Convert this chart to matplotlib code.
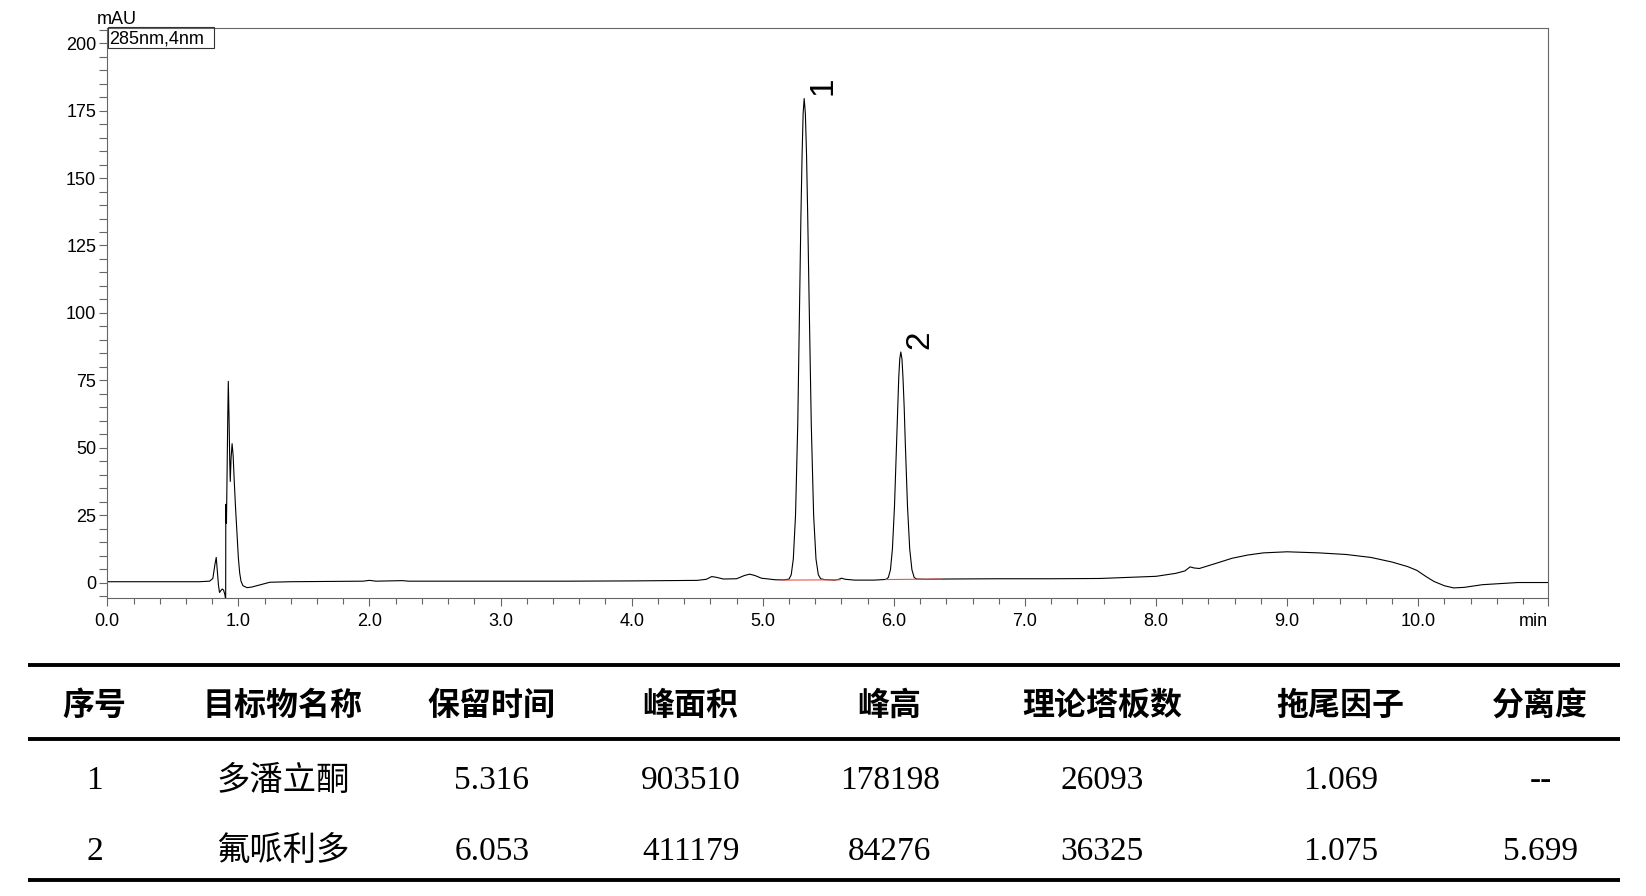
import matplotlib
matplotlib.use('Agg')
import matplotlib.pyplot as plt
from matplotlib.lines import Line2D
from matplotlib.patches import Rectangle
import numpy as np

# ---------------- chromatogram trace ----------------
time_min = [
    0.00, 0.40, 0.70, 0.78, 0.805, 0.822, 0.831, 0.840, 0.848, 0.856, 0.866, 0.877,
    0.887, 0.897, 0.903, 0.904, 0.909, 0.913, 0.919, 0.923, 0.929, 0.934, 0.938,
    0.944, 0.952, 0.960, 0.968, 0.978, 0.989, 1.000, 1.010, 1.020, 1.035, 1.066,
    1.100, 1.170, 1.240, 1.40, 1.70, 1.95, 2.00, 2.05, 2.25, 2.30, 2.60, 3.00,
    3.50, 4.00, 4.50, 4.57, 4.61, 4.64, 4.70, 4.80, 4.86, 4.90, 4.94, 4.99, 5.10,
    5.16, 5.200, 5.217, 5.233, 5.250, 5.267, 5.283, 5.291, 5.300, 5.308, 5.316,
    5.325, 5.334, 5.343, 5.352, 5.370, 5.388, 5.406, 5.424, 5.442, 5.47, 5.55,
    5.58, 5.60, 5.63, 5.70, 5.85, 5.925, 5.942, 5.958, 5.974, 5.989, 6.005, 6.021,
    6.029, 6.037, 6.045, 6.053, 6.062, 6.070, 6.079, 6.087, 6.104, 6.121, 6.138,
    6.155, 6.172, 6.25, 6.40, 6.80, 7.20, 7.57, 8.00, 8.15, 8.22, 8.26, 8.29,
    8.33, 8.45, 8.58, 8.70, 8.82, 9.00, 9.24, 9.45, 9.64, 9.80, 9.92, 9.99, 10.06,
    10.12, 10.20, 10.27, 10.35, 10.49, 10.76, 10.99,
]
signal_mau = [
    0.3, 0.3, 0.3, 0.5, 1.5, 7.0, 9.3, 4.0, -1.0, -3.7, -3.0, -2.4,
    -2.8, -4.5, -6.5, 29.0, 22.0, 38.0, 62.0, 74.6, 60.0, 45.0, 37.5,
    46.0, 51.5, 47.0, 38.0, 28.0, 18.3, 9.0, 3.5, 0.5, -1.2, -1.9,
    -1.7, -0.8, 0.1, 0.3, 0.4, 0.5, 0.8, 0.5, 0.7, 0.5, 0.5, 0.5,
    0.5, 0.6, 0.8, 1.2, 2.2, 2.0, 1.3, 1.4, 2.6, 3.1, 2.6, 1.6, 1.0,
    1.0, 1.25, 2.85, 8.7, 25.0, 58.9, 109.2, 135.7, 158.6, 174.0, 179.5,
    174.0, 158.6, 135.7, 109.2, 58.9, 25.0, 8.7, 2.85, 1.4, 1.1, 0.9,
    1.2, 1.6, 1.2, 0.9, 0.9, 1.1, 1.2, 1.9, 4.7, 12.4, 28.4, 52.2,
    64.8, 75.6, 82.9, 85.5, 82.9, 75.6, 64.8, 52.2, 28.4, 12.4, 4.7,
    1.9, 1.3, 1.2, 1.3, 1.4, 1.4, 1.5, 2.3, 3.4, 4.3, 5.8, 5.4,
    5.2, 7.0, 9.0, 10.2, 11.0, 11.4, 11.0, 10.4, 9.3, 7.6, 5.9, 4.5, 2.2,
    0.4, -1.2, -2.0, -1.8, -0.8, 0.0, 0.0,
]

# integration baselines (red)
base_start_t = [5.14, 5.94]
base_end_t = [5.59, 6.36]
base_start_v = [0.9, 1.1]
base_end_v = [1.0, 1.3]

# peak labels
peak_ids = ['1', '2']
peak_times = [5.316, 6.053]
peak_heights = [179.5, 85.5]

# axis ticks
y_major = [0, 25, 50, 75, 100, 125, 150, 175, 200]
x_major = [0, 1, 2, 3, 4, 5, 6, 7, 8, 9, 10]
x_labels = ['0.0', '1.0', '2.0', '3.0', '4.0', '5.0', '6.0', '7.0', '8.0', '9.0', '10.0']
x_end = 10.99

# ---------------- results table ----------------
table_header = ['序号', '目标物名称', '保留时间', '峰面积', '峰高', '理论塔板数', '拖尾因子', '分离度']
table_rows = [
    ['1', '多潘立酮', '5.316', '903510', '178198', '26093', '1.069', '--'],
    ['2', '氟哌利多', '6.053', '411179', '84276', '36325', '1.075', '5.699'],
]

W, H = 1646, 896
fig = plt.figure(figsize=(W / 100, H / 100), dpi=100)

def fx(px):
    return px / W

def fy(py):
    return 1 - py / H

ax_l, ax_r, ax_t, ax_b = 107.3, 1548.0, 27.5, 598.3
ax = fig.add_axes([fx(ax_l), fy(ax_b), fx(ax_r - ax_l), (ax_b - ax_t) / H])

ax.plot(time_min, signal_mau, color='black', lw=0.8, solid_joinstyle='round')
for s, e, sv, ev in zip(base_start_t, base_end_t, base_start_v, base_end_v):
    ax.plot([s, e], [sv, ev], color='#e8574a', lw=0.8)

ax.set_xlim(0, x_end)
ax.set_ylim(-5.85, 205.85)

tick_font = 'Liberation Sans'
ax.set_xticks(x_major + [x_end], x_labels + ['min'])
ax.set_xticks(np.arange(0, 10.9, 0.2), minor=True)
ax.set_yticks(y_major, [str(v) for v in y_major])
ax.set_yticks(np.arange(-5, 206, 5), minor=True)
ax.get_xticklabels()[-1].set_ha('right')
for lab in ax.get_xticklabels() + ax.get_yticklabels():
    lab.set_fontfamily(tick_font)
    lab.set_fontsize(13)

spine_col = '#666666'
for sp in ax.spines.values():
    sp.set_color(spine_col)
    sp.set_linewidth(0.8)
ax.tick_params(axis='x', which='major', direction='out', length=6, width=0.8, color=spine_col, pad=4.5)
ax.tick_params(axis='x', which='minor', direction='out', length=4, width=0.8, color=spine_col)
ax.tick_params(axis='y', which='both', direction='out', length=6, width=0.8, color=spine_col, pad=2)

# peak number labels
for pid, pt, ph in zip(peak_ids, peak_times, peak_heights):
    ax.annotate(pid, xy=(pt, ph), xytext=(13.5, 9), textcoords='offset points',
                rotation=90, ha='center', va='center', fontsize=24, family=tick_font)

# unit and detector label
fig.text(fx(117), fy(20), 'mAU', ha='center', va='center', fontsize=13, family=tick_font)
fig.add_artist(Rectangle((fx(108), fy(48.3)), fx(214 - 108), (48.3 - 27.5) / H,
                         transform=fig.transFigure, fill=False, ec='#333333', lw=0.8))
fig.text(fx(109.5), fy(38.5), '285nm,4nm', ha='left', va='center', fontsize=13, family=tick_font)

# table
col_x = [94.5, 282.9, 491.8, 690.7, 889.6, 1102.2, 1340.5, 1540.4]
rule_y = [664.5, 739.0, 879.6]
for ry in rule_y:
    fig.add_artist(Line2D([fx(28.3), fx(1619.7)], [fy(ry), fy(ry)], transform=fig.transFigure,
                          color='black', lw=2.8, solid_capstyle='butt'))
for cx, txt in zip(col_x, table_header):
    fig.text(fx(cx), fy(705.5), txt, ha='center', va='center', fontsize=23,
             family=['Noto Sans CJK SC'], weight='bold')
for ry, row in zip([781.0, 851.5], table_rows):
    for cx, txt in zip(col_x, row):
        fig.text(fx(cx), fy(ry), txt, ha='center', va='center', fontsize=24,
                 family=['Liberation Serif', 'Noto Sans CJK SC'])

fig.savefig('out.png', dpi=100)
